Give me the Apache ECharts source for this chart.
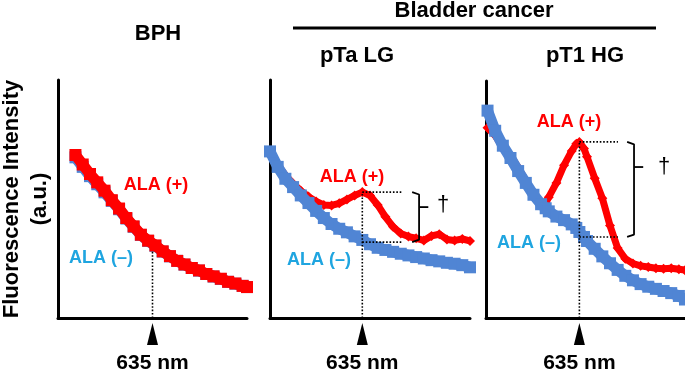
<!DOCTYPE html>
<html>
<head>
<meta charset="utf-8">
<script src="https://cdn.jsdelivr.net/npm/echarts@6/dist/echarts.min.js"></script>
<style>
  html, body { margin: 0; padding: 0; background: #fff; }
  #chart { width: 685px; height: 371px; }
</style>
</head>
<body>
<div id="chart"></div>
<script>
// wavelength (nm) for each panel
const wlBPH = [582, 587, 592, 597, 602, 607, 612, 617, 622, 627, 632, 637, 642, 647, 652, 657, 662, 667, 672, 677, 682, 687, 692, 697, 700];
const bphNeg = [67.5, 63.5, 59.6, 56.2, 52.8, 49.2, 45.7, 41.8, 38.3, 34.9, 32.4, 30.3, 27.9, 25.9, 24, 22.4, 21, 19.9, 18.5, 17.4, 16.4, 15.2, 14.4, 13.5, 13];
const bphPos = [68.5, 64.5, 60.5, 57, 53.5, 49.5, 46, 42, 38.5, 35, 32.5, 30.5, 28, 26, 24, 22.5, 21, 20, 18.5, 17.5, 16.5, 15.2, 14.5, 13.5, 13];

const wlTa = [575, 580, 585, 590, 595, 600, 605, 610, 615, 620, 625, 630, 635, 640, 645, 650, 655, 660, 665, 670, 675, 680, 685, 690, 695, 700, 705];
const taNeg = [70, 63.5, 58.5, 55, 51.5, 48.3, 45, 42, 39.5, 37.5, 36, 34.3, 32.8, 31, 29.5, 28.6, 27.8, 27, 26.3, 25.6, 25, 24.3, 23.8, 23.2, 22.8, 22.2, 21.3];
const taPos = [69.5, 64.5, 60, 56.5, 53.5, 51, 49, 47.5, 47.3, 48.2, 49.8, 51.5, 52.9, 51.5, 47.5, 42.5, 38.3, 35.5, 34.2, 33.5, 32.6, 34.5, 35.2, 33, 32.6, 33.2, 32.4];

const wlT1 = [575, 580, 585, 590, 595, 600, 605, 610, 613, 615, 620, 625, 630, 633, 635, 638, 640, 645, 650, 655, 660, 665, 670, 675, 680, 685, 690, 695, 700, 704];
const t1Neg = [87.5, 79, 72.7, 67.5, 62, 57, 52, 48, 46.3, 45, 42.8, 41.3, 39.5, 38, 36.3, 34.2, 32.5, 29.2, 26, 23.1, 20.3, 17.8, 15.9, 14.3, 13.2, 12.3, 11.4, 10.5, 9.3, 7.8];
const t1Pos = [80.3, 77, 72, 68.5, 63.5, 58, 52.5, 48.5, 48.5, 51, 57, 64.5, 70.5, 73.5, 74.3, 71.5, 68, 59, 50.5, 39, 29.5, 25, 23, 22, 21.5, 21, 20.8, 21, 20.6, 20.2];

// annotation values: [peak of ALA(+), ALA(-) at 635 nm]
const peak = 635;
const taMarks = [52.9, 31.9];
const t1Marks = [74.3, 34.2];

const BLUE = "#5085d4";
const RED = "#ff0000";
const LBLUE = "#1fa5e0";
const FONT = "Liberation Sans, Arial, sans-serif";

const chart = echarts.init(document.getElementById("chart"));

function pairs(xs, ys) {
  return xs.map((x, i) => [x, ys[i]]);
}

function curve(idx, data, color, symbol, size, width, z) {
  return {
    type: "line",
    xAxisIndex: idx,
    yAxisIndex: idx,
    data: data,
    symbol: symbol,
    symbolSize: size,
    showAllSymbol: true,
    itemStyle: { color: color, opacity: 1 },
    lineStyle: { color: color, width: width },
    z: z,
    silent: true
  };
}

function guide(idx, data, dotted) {
  return {
    type: "line",
    xAxisIndex: idx,
    yAxisIndex: idx,
    data: data,
    symbol: "none",
    lineStyle: { color: "#000", width: dotted ? 1.6 : 1.8, type: dotted ? [1.6, 1.8] : "solid" },
    z: 10,
    silent: true
  };
}

function marker(idx) {
  return {
    type: "scatter",
    xAxisIndex: idx,
    yAxisIndex: idx,
    data: [[peak, -6.7]],
    symbol: "triangle",
    symbolSize: [11, 22],
    clip: false,
    itemStyle: { color: "#000", opacity: 1 },
    label: {
      show: true,
      position: "bottom",
      distance: 8,
      formatter: "635 nm",
      color: "#000",
      fontSize: 21,
      fontWeight: "bold",
      fontFamily: FONT
    },
    silent: true
  };
}

function bracket(idx, xEnd, xb, top, bot, mid) {
  return [
    guide(idx, [[peak, top], [xEnd, top]], true),
    guide(idx, [[peak, bot], [xEnd, bot]], true),
    guide(idx, [[peak, 0], [peak, top]], true),
    guide(idx, [[xb - 4.5, top], [xb, top - 1], [xb, bot + 1], [xb - 4.5, bot]], false),
    guide(idx, [[xb, mid], [xb + 6, mid]], false)
  ];
}

const grids = [
  { left: 58, top: 80, width: 189, height: 238 },
  { left: 270, top: 80, width: 200, height: 238 },
  { left: 486, top: 81, width: 199, height: 237 }
];
const xRanges = [[570, 700], [575, 705], [574, 704]];

const axisLine = { show: true, onZero: false, lineStyle: { color: "#000", width: 3 } };

function txt(text, x, y, size, color, rot) {
  return {
    type: "text",
    x: x,
    y: y,
    rotation: rot || 0,
    silent: true,
    style: {
      text: text,
      x: 0,
      y: 0,
      align: "center",
      verticalAlign: "middle",
      textAlign: "center",
      textVerticalAlign: "middle",
      fill: color || "#000",
      font: "bold " + size + "px " + FONT
    }
  };
}

const option = {
  animation: false,
  backgroundColor: "#fff",
  grid: grids,
  xAxis: xRanges.map((r, i) => ({
    type: "value",
    gridIndex: i,
    min: r[0],
    max: r[1],
    axisLine: axisLine,
    axisTick: { show: false },
    axisLabel: { show: false },
    splitLine: { show: false }
  })),
  yAxis: grids.map((g, i) => ({
    type: "value",
    gridIndex: i,
    min: 0,
    max: 100,
    axisLine: axisLine,
    axisTick: { show: false },
    axisLabel: { show: false },
    splitLine: { show: false }
  })),
  series: [
    curve(0, pairs(wlBPH, bphNeg), BLUE, "rect", 12, 11, 2),
    curve(0, pairs(wlBPH, bphPos), RED, "rect", 12, 11, 3),
    guide(0, [[peak, 0], [peak, 28]], true),
    marker(0),

    curve(1, pairs(wlTa, taPos), RED, "diamond", 10, 7, 2),
    curve(1, pairs(wlTa, taNeg), BLUE, "rect", 12, 11, 3),
    ...bracket(1, 660.8, 671.9, taMarks[0], taMarks[1], 46.6),
    marker(1),

    curve(2, pairs(wlT1, t1Pos), RED, "diamond", 10, 7, 2),
    curve(2, pairs(wlT1, t1Neg), BLUE, "rect", 12, 11, 3),
    ...bracket(2, 660.2, 670.7, t1Marks[0], t1Marks[1], 63.7),
    marker(2)
  ],
  graphic: [
    txt("BPH", 158, 34, 22),
    txt("Bladder cancer", 474, 11, 22),
    { type: "line", silent: true, shape: { x1: 293, y1: 28, x2: 656, y2: 28 }, style: { stroke: "#000", lineWidth: 3 } },
    txt("pTa LG", 357, 56, 22),
    txt("pT1 HG", 585, 56, 22),
    txt("Fluorescence Intensity", 12, 199, 22, "#000", Math.PI / 2),
    txt("(a.u.)", 40, 199, 22, "#000", Math.PI / 2),
    txt("ALA (+)", 156, 185, 18, RED),
    txt("ALA (\u2013)", 101, 258, 18, LBLUE),
    txt("ALA (+)", 352, 177, 18, RED),
    txt("ALA (\u2013)", 319, 260, 18, LBLUE),
    txt("ALA (+)", 569, 122, 18, RED),
    txt("ALA (\u2013)", 529, 243, 18, LBLUE),
    { type: "text", x: 443, y: 205, silent: true, style: { text: "\u2020", align: "center", verticalAlign: "middle", textAlign: "center", textVerticalAlign: "middle", fill: "#000", font: "22px " + FONT } },
    { type: "text", x: 664, y: 167, silent: true, style: { text: "\u2020", align: "center", verticalAlign: "middle", textAlign: "center", textVerticalAlign: "middle", fill: "#000", font: "22px " + FONT } }
  ]
};

chart.setOption(option);
</script>
</body>
</html>
